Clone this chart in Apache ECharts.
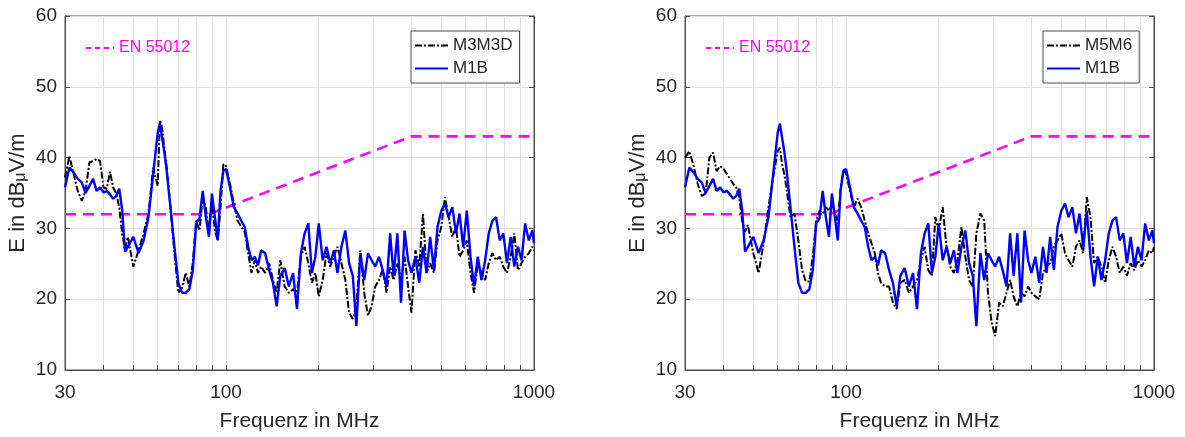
<!DOCTYPE html>
<html><head><meta charset="utf-8">
<script src="https://cdn.jsdelivr.net/npm/echarts@6/dist/echarts.min.js"></script>
<style>html,body{margin:0;padding:0;background:#fff}#c{width:1185px;height:437px}</style>
</head><body><div id="c"></div>
<script>
// Frequencies (MHz) shared by the measured curves
const freq = [30,31,32,33,34,35,36,37,38,39,40,41,42,43,44,45,46,47,48,50,52,54,56,58,60,61,62,63,64,
  66,68,70,72,74,76,78,80,82,84,86,88,90,92,94,96,98,100,
  103,106,109,112,115,118,121,124,127,130,134,138,142,146,150,155,160,165,170,175,180,185,190,195,200,
  206,212,218,224,230,237,244,251,258,265,273,281,289,297,305,314,323,332,341,350,360,370,380,390,400,
  412,424,436,448,460,473,486,500,514,528,543,558,573,589,605,622,639,657,675,694,713,733,753,774,795,
  817,840,863,887,911,936,962,988,1000];

// M3M3D (left panel, black dash-dot)
const m3m3d = [37.2,40.2,37.7,35.3,33.9,35.3,39.3,39.5,39.8,39.5,35.8,35.6,38.0,35.8,34.9,33.0,29.3,27.0,28.8,24.6,26.9,29.3,32.1,38.6,36.0,45.3,44.2,41.4,39.1,
  33.0,26.5,20.9,21.6,23.7,21.8,25.1,31.1,29.7,34.4,33.0,29.3,33.9,29.7,28.3,33.0,39.1,38.8,
  36.3,33.5,31.1,30.2,29.5,26.5,23.7,25.5,23.7,24.6,23.7,25.1,22.7,20.9,25.5,21.8,20.9,21.4,20.9,26.0,27.4,25.1,22.3,23.7,20.4,
  22.7,26.5,24.6,26.0,27.4,25.1,22.7,18.1,17.2,19.0,26.9,20.9,17.7,19.0,21.8,22.7,24.3,20.9,24.6,22.7,25.1,22.7,26.0,21.8,18.1,
  26.9,24.6,32.1,23.7,25.1,23.7,28.3,30.2,34.4,31.6,28.8,30.2,26.0,26.9,28.3,23.7,20.9,25.1,23.7,22.7,25.1,26.5,25.5,26.0,24.6,
  23.7,26.0,29.3,24.1,25.1,26.0,26.5,27.4,26.9];

// M5M6 (right panel, black dash-dot)
const m5m6 = [40.0,40.9,38.8,36.3,34.6,34.9,40.0,40.7,38.1,38.8,38.4,37.7,37.0,36.3,35.8,34.4,31.1,29.5,30.5,26.5,23.7,27.9,33.0,37.2,40.9,41.4,39.1,37.7,35.8,
  31.6,32.1,28.3,24.1,22.5,22.5,26.0,31.1,32.5,32.1,33.0,32.5,33.5,32.1,30.7,35.5,38.4,37.7,
  35.3,33.0,34.2,33.0,31.1,29.3,27.9,26.5,23.7,22.3,21.8,21.8,19.5,18.6,22.3,22.7,20.9,21.8,22.7,25.5,27.4,24.1,23.3,31.6,29.7,
  33.0,27.4,24.6,23.7,25.5,30.2,26.0,22.7,21.8,29.3,32.1,31.1,20.9,16.7,14.8,19.5,19.0,20.9,22.7,20.4,19.0,20.9,20.4,21.8,20.9,
  20.4,20.0,23.7,24.6,25.1,27.4,28.3,29.3,26.5,25.5,24.6,27.4,28.3,26.5,34.4,31.6,25.1,26.0,24.6,22.3,25.5,27.4,26.0,23.7,24.6,
  23.3,25.1,24.1,25.5,24.6,25.5,26.9,26.5,27.4];

// M1B (both panels, blue solid)
const m1b = [35.8,38.6,37.9,37.0,36.5,35.0,36.0,37.0,35.3,35.8,35.1,35.3,34.8,34.2,34.6,35.6,32.6,26.7,27.4,28.8,26.5,28.3,31.6,37.7,43.5,44.8,42.8,40.9,38.6,
  33.0,27.4,22.3,20.9,20.9,21.4,24.1,30.7,31.4,35.3,31.6,28.8,34.9,31.6,28.3,35.3,38.1,38.4,
  35.8,33.0,32.1,31.1,30.2,27.4,25.5,26.0,24.8,26.9,26.5,24.1,22.3,19.0,23.3,24.4,21.8,23.7,18.6,26.5,29.3,30.7,23.7,26.0,30.7,
  25.5,27.4,25.1,26.9,23.7,27.4,29.7,25.1,23.3,16.2,26.5,22.7,26.5,25.5,24.6,26.0,24.0,21.8,29.3,23.3,29.3,19.5,29.7,25.5,23.7,
  26.0,22.3,27.4,23.7,28.8,24.1,30.2,32.5,33.5,31.6,33.0,29.3,32.1,27.4,32.5,26.0,21.8,26.0,22.7,25.5,29.3,31.1,31.6,28.3,29.3,
  25.1,28.8,24.6,27.4,25.5,30.7,28.3,29.7,27.9];

// EN 55012 limit
const limitFreq = [30, 88, 400, 1000];
const limitVal = [32, 32, 43, 43];

// Axis ticks
const xTickValues = [30,40,50,60,70,80,90,100,200,300,400,500,600,700,800,900,1000];
const xLabelValues = [30,100,1000];
const yTickMin = 10, yTickMax = 60, yTickStep = 10;

function pairs(xs, ys){ return xs.map((x,i)=>[x, ys[i]]); }

const FONT = 'Liberation Sans, Arial, Helvetica, sans-serif';
const TXT = '#262626';
const AX = '#4d4d4d';
const GRIDC = '#e2e2e2';

const panels = [
  {left: 65, black: 'M3M3D', blackData: m3m3d, legendLeft: 411, enLeft: 85},
  {left: 685, black: 'M5M6', blackData: m5m6, legendLeft: 1043, enLeft: 705}
];

const grid = [], xAxis = [], yAxis = [], series = [], legend = [];
panels.forEach((p, i) => {
  grid.push({left: p.left, top: 16, width: 469, height: 360, show: true, borderColor: AX, borderWidth: 1, containLabel: false});
  xAxis.push({
    type: 'log', logBase: 10, min: 30, max: 1000, gridIndex: i,
    axisLine: {show: true, lineStyle: {color: AX, width: 1}},
    axisTick: {show: true, inside: true, length: 5, customValues: xTickValues, lineStyle: {color: AX}},
    axisLabel: {customValues: xLabelValues, fontSize: 19, color: TXT, margin: 13, fontFamily: FONT,
      formatter: v => String(Math.round(v))},
    splitLine: {show: true, lineStyle: {color: GRIDC, width: 1}},
    name: 'Frequenz in MHz', nameLocation: 'middle', nameGap: 41,
    nameTextStyle: {fontSize: 21, color: TXT, fontFamily: FONT}
  });
  yAxis.push({
    type: 'value', min: yTickMin, max: yTickMax, interval: yTickStep, gridIndex: i, position: 'left',
    axisLine: {show: true, lineStyle: {color: AX}},
    axisTick: {show: true, inside: true, length: 5, lineStyle: {color: AX}},
    axisLabel: {fontSize: 19, color: TXT, margin: 8, fontFamily: FONT},
    splitLine: {show: true, lineStyle: {color: GRIDC, width: 1}},
    name: 'E in dB{s|μ}V/m', nameLocation: 'middle', nameGap: 36, nameRotate: 90,
    nameTextStyle: {fontSize: 22, color: TXT, fontFamily: FONT,
      rich: {s: {fontSize: 16, color: TXT, fontFamily: FONT, padding: [0, 0, -6, 0]}}}
  });
  yAxis.push({
    type: 'value', min: yTickMin, max: yTickMax, interval: yTickStep, gridIndex: i, position: 'right',
    axisLine: {show: true, lineStyle: {color: AX}},
    axisTick: {show: true, inside: true, length: 5, lineStyle: {color: AX}},
    axisLabel: {show: false}, splitLine: {show: false}
  });
  series.push({
    type: 'line', name: 'EN 55012', xAxisIndex: i, yAxisIndex: i * 2,
    data: pairs(limitFreq, limitVal), symbol: 'none', z: 2,
    lineStyle: {color: '#ff00ff', width: 2.6, type: [11, 7]}, itemStyle: {color: '#ff00ff'}
  });
  series.push({
    type: 'line', name: p.black, xAxisIndex: i, yAxisIndex: i * 2,
    data: pairs(freq, p.blackData), symbol: 'none', z: 3,
    lineStyle: {color: '#000000', width: 2, type: [7, 2, 2, 2]}, itemStyle: {color: '#000000'}
  });
  series.push({
    type: 'line', name: 'M1B', xAxisIndex: i, yAxisIndex: i * 2,
    data: pairs(freq, m1b), symbol: 'none', z: 4,
    lineStyle: {color: '#0000ff', width: 2.4}, itemStyle: {color: '#0000ff'}
  });
  legend.push({
    data: [{name: 'EN 55012', textStyle: {color: '#ff00ff'}}],
    left: p.enLeft, top: 40, padding: 0, itemWidth: 28, itemHeight: 12, selectedMode: false,
    textStyle: {fontSize: 16, color: '#ff00ff', fontFamily: FONT},
    itemStyle: {opacity: 0},
    lineStyle: {type: [5, 4], width: 2}
  });
  legend.push({
    data: [p.black, 'M1B'], orient: 'vertical', left: p.legendLeft, top: 31,
    padding: [6, 7, 6, 3], itemGap: 6, itemWidth: 33, itemHeight: 18, selectedMode: false,
    borderColor: AX, borderWidth: 1, backgroundColor: '#ffffff',
    itemStyle: {opacity: 0},
    textStyle: {fontSize: 17, color: TXT, fontFamily: FONT}
  });
});

const chart = echarts.init(document.getElementById('c'), null, {renderer: 'canvas'});
chart.setOption({
  animation: false,
  backgroundColor: '#ffffff',
  textStyle: {fontFamily: FONT},
  grid, xAxis, yAxis, series, legend
});
</script>
</body></html>
